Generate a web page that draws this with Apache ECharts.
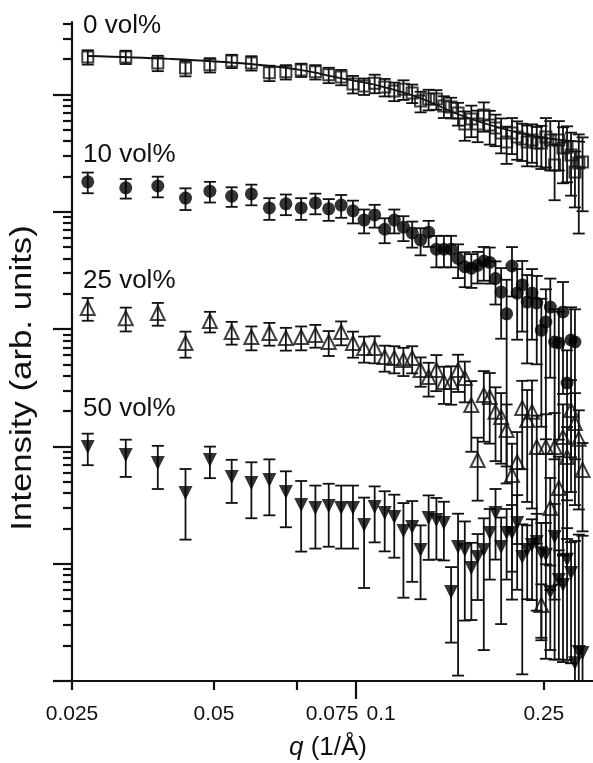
<!DOCTYPE html>
<html>
<head>
<meta charset="utf-8">
<script src="https://cdn.jsdelivr.net/npm/echarts@6/dist/echarts.min.js"></script>
<style>
html, body { margin: 0; padding: 0; background: #fff; }
#chart { width: 593px; height: 763px; }
</style>
</head>
<body>
<div id="chart"></div>
<script>
// q grid (1/Å), shared by all four samples
var qValues = [0.0270, 0.0325, 0.0380, 0.0435, 0.0490, 0.0545, 0.0600, 0.0655, 0.0710, 0.0765,
  0.0820, 0.0875, 0.0930, 0.0985, 0.1040, 0.1095, 0.1150, 0.1205, 0.1260, 0.1315,
  0.1370, 0.1425, 0.1480, 0.1535, 0.1590, 0.1645, 0.1700, 0.1755, 0.1810, 0.1865,
  0.1920, 0.1975, 0.2030, 0.2085, 0.2140, 0.2195, 0.2250, 0.2305, 0.2360, 0.2415,
  0.2470, 0.2525, 0.2580, 0.2635, 0.2690, 0.2745, 0.2800, 0.2855, 0.2910, 0.2965, 0.3020];

// 0 vol%  (open squares)
var int0 = [2.09e5, 2.09e5, 1.86e5, 1.68e5, 1.79e5, 1.93e5, 1.86e5, 1.53e5, 1.56e5, 1.62e5,
  1.56e5, 1.47e5, 1.41e5, 1.23e5, 1.18e5, 1.25e5, 1.16e5, 1.07e5, 1.11e5, 1.03e5,
  8.80e4, 9.15e4, 9.15e4, 7.98e4, 7.82e4, 6.96e4, 5.60e4, 6.18e4, 5.60e4, 6.69e4,
  5.50e4, 5.18e4, 4.70e4, 3.94e4, 4.70e4, 4.34e4, 4.17e4, 3.94e4, 4.09e4, 3.86e4,
  3.86e4, 4.34e4, 4.09e4, 2.51e4, 4.09e4, 3.50e4, 3.57e4, 3.05e4, 2.18e4, 2.61e4, 2.66e4];
var err0 = [0.14, 0.13, 0.15, 0.15, 0.14, 0.13, 0.14, 0.15, 0.14, 0.13,
  0.14, 0.15, 0.15, 0.17, 0.16, 0.18, 0.17, 0.18, 0.19, 0.18,
  0.20, 0.20, 0.19, 0.21, 0.20, 0.22, 0.28, 0.30, 0.30, 0.28,
  0.32, 0.30, 0.33, 0.35, 0.34, 0.36, 0.35, 0.38, 0.36, 0.37,
  0.40, 0.45, 0.45, 0.50, 0.45, 0.50, 0.50, 0.55, 0.50, 0.75, 0.62];

// fit curve through the 0 vol% data
var fitQ = [0.0270, 0.0403, 0.0596, 0.0761, 0.0925, 0.1124, 0.1366, 0.1661, 0.2019, 0.2454, 0.3057];
var fitI = [2.13e5, 2.01e5, 1.82e5, 1.62e5, 1.38e5, 1.18e5, 9.34e4, 6.69e4, 5.18e4, 4.34e4, 3.94e4];

// 10 vol%  (filled circles)
var int10 = [1.80e4, 1.60e4, 1.66e4, 1.31e4, 1.50e4, 1.36e4, 1.42e4, 1.08e4, 1.17e4, 1.08e4,
  1.19e4, 1.06e4, 1.14e4, 1.02e4, 8.5e3, 9.4e3, 7.1e3, 8.5e3, 7.4e3, 6.6e3,
  5.75e3, 6.7e3, 4.8e3, 4.8e3, 4.8e3, 4.0e3, 3.4e3, 3.3e3, 3.5e3, 3.8e3,
  3.7e3, 2.7e3, 2.07e3, 1.35e3, 3.45e3, 2.03e3, 2.38e3, 1.70e3, 2.03e3, 1.67e3,
  980, 1.15e3, 1.54e3, 776, 761, 1.40e3, 347, 807, 776];
var err10 = [0.20, 0.19, 0.20, 0.21, 0.20, 0.19, 0.20, 0.21, 0.20, 0.21,
  0.20, 0.21, 0.22, 0.22, 0.23, 0.22, 0.24, 0.23, 0.24, 0.25,
  0.26, 0.25, 0.30, 0.30, 0.30, 0.32, 0.33, 0.32, 0.30, 0.32,
  0.34, 0.40, 0.60, 0.95, 0.45, 0.60, 0.60, 0.70, 0.60, 0.70,
  0.85, 0.90, 0.75, 0.90, 0.85, 0.80, 0.90, 0.90, 0.90];

// 25 vol%  (open triangles)
var int25 = [1.51e3, 1.24e3, 1.37e3, 761, 1.17e3, 945, 856, 926, 840, 856,
  890, 776, 945, 761, 690, 690, 578, 567, 545, 567,
  448, 391, 448, 354, 354, 448, 383, 225, 76.6, 274,
  264, 197, 178, 138, 57, 73.6, 213, 168, 197, 98.8,
  4.45, 98.8, 29.9, 98.8, 44.2, 120, 81.2, 204, 158, 116, 62.9];
var err25 = [0.22, 0.23, 0.22, 0.25, 0.20, 0.22, 0.23, 0.22, 0.22, 0.23,
  0.22, 0.24, 0.23, 0.25, 0.25, 0.26, 0.25, 0.26, 0.27, 0.26,
  0.28, 0.32, 0.34, 0.35, 0.36, 0.35, 0.38, 0.60, 0.55, 0.60,
  0.60, 0.62, 0.60, 0.65, 0.85, 0.80, 0.70, 0.80, 0.85, 0.85,
  0.50, 0.90, 0.80, 0.95, 0.85, 0.90, 0.80, 0.80, 0.80, 0.75, 0.70];

// 50 vol%  (filled down-triangles)
var int50 = [98.8, 84.5, 72.2, 40.1, 76.6, 54.9, 48.8, 51.7, 40.9, 31.7,
  29.9, 31.0, 29.9, 29.9, 21.4, 30.4, 27.1, 25.0, 19.0, 20.6,
  13.1, 24.5, 23.6, 22.2, 5.74, 13.9, 13.1, 9.19, 11.4, 13.1,
  18.3, 27.1, 13.9, 18.3, 18.3, 22.2, 11.4, 13.1, 14.4, 15.3,
  12.3, 11.9, 5.74, 16.9, 7.26, 6.59, 10.8, 8.33, 1.42, 1.77, 1.73];
var err50 = [0.30, 0.35, 0.40, 0.60, 0.30, 0.40, 0.50, 0.50, 0.50, 0.60,
  0.55, 0.55, 0.55, 0.55, 0.71, 0.50, 0.53, 0.55, 0.73, 0.66,
  0.62, 0.56, 0.54, 0.52, 0.63, 0.92, 0.75, 0.64, 0.57, 0.86,
  0.60, 0.60, 0.78, 0.60, 0.73, 0.73, 0.90, 0.62, 0.66, 0.74,
  0.81, 0.87, 0.68, 0.91, 0.79, 0.78, 0.86, 0.83, 10, 9, 9];

var seriesNames = ['0 vol%', '10 vol%', '25 vol%', '50 vol%'];

// axis ticks
var xTicks = [0.025, 0.05, 0.075, 0.25];
var xMajorTicks = [0.1];
var xLabels = [0.025, 0.05, 0.075, 0.1, 0.25];
var xLabelTexts = ['0.025', '0.05', '0.075', '0.1', '0.25'];
var yDecades = [1, 10, 100, 1e3, 1e4, 1e5];
var yRange = [1, 4.15e5];
var xRange = [0.025, 0.3178];

var INK = '#111';
var FONT = '"Liberation Sans", Arial, Helvetica, sans-serif';

function lg(v) { return Math.log10(v); }

function yMinorTicks() {
  var out = [];
  for (var k = 0; k < yDecades.length; k++) {
    for (var m = 2; m <= 9; m++) {
      var v = yDecades[k] * m;
      if (v <= yRange[1]) out.push(lg(v));
    }
  }
  return out;
}

function findIndex(list, value) {
  for (var i = 0; i < list.length; i++) {
    if (Math.abs(lg(list[i]) - value) < 1e-6) return i;
  }
  return -1;
}

function points(ints) {
  var d = [];
  for (var i = 0; i < ints.length; i++) d.push([lg(qValues[i]), lg(ints[i])]);
  return d;
}

function errorSeries(ints, errs) {
  var data = [];
  for (var i = 0; i < ints.length; i++) {
    var lo = ints[i] * (1 - errs[i]);
    var hi = ints[i] * (1 + errs[i]);
    data.push([lg(qValues[i]), lo > yRange[0] ? lg(lo) : lg(yRange[0]), lg(hi)]);
  }
  return {
    type: 'custom',
    xAxisIndex: 0,
    yAxisIndex: 0,
    silent: true,
    z: 2,
    data: data,
    encode: { x: 0, y: [1, 2] },
    renderItem: function (params, api) {
      var x = api.value(0);
      var p1 = api.coord([x, api.value(1)]);
      var p2 = api.coord([x, api.value(2)]);
      var w = 6;
      var st = { stroke: INK, lineWidth: 1.8, fill: null };
      return {
        type: 'group',
        children: [
          { type: 'line', shape: { x1: p1[0], y1: p1[1], x2: p2[0], y2: p2[1] }, style: st },
          { type: 'line', shape: { x1: p1[0] - w, y1: p1[1], x2: p1[0] + w, y2: p1[1] }, style: st },
          { type: 'line', shape: { x1: p2[0] - w, y1: p2[1], x2: p2[0] + w, y2: p2[1] }, style: st }
        ]
      };
    }
  };
}

var fitData = [];
for (var f = 0; f < fitQ.length; f++) fitData.push([lg(fitQ[f]), lg(fitI[f])]);

var chart = echarts.init(document.getElementById('chart'), null, { renderer: 'canvas' });

var xBase = {
  type: 'value',
  min: lg(xRange[0]),
  max: lg(xRange[1]),
  position: 'bottom',
  splitLine: { show: false }
};
var yBase = {
  type: 'value',
  min: lg(yRange[0]),
  max: lg(yRange[1]),
  position: 'left',
  splitLine: { show: false }
};

var option = {
  backgroundColor: '#fff',
  animation: false,
  grid: { left: 72, right: 0, top: 22, bottom: 82, containLabel: false },
  xAxis: [
    Object.assign({}, xBase, {
      axisLine: { show: true, lineStyle: { color: INK, width: 2.2 } },
      axisTick: {
        show: true, inside: false, length: 9,
        lineStyle: { color: INK, width: 2.2 },
        customValues: xTicks.map(lg)
      },
      axisLabel: {
        show: true, margin: 23,
        color: INK, fontFamily: FONT, fontSize: 21,
        customValues: xLabels.map(lg),
        formatter: function (v) {
          var i = findIndex(xLabels, v);
          if (i < 0) return '';
          if (xLabelTexts[i] === '0.075') return '{s1|' + xLabelTexts[i] + '}';
          if (xLabelTexts[i] === '0.1') return '{s2|' + xLabelTexts[i] + '}';
          return xLabelTexts[i];
        },
        rich: {
          s1: { padding: [0, 0, 0, 70], fontFamily: FONT, fontSize: 21, color: INK },
          s2: { padding: [0, 0, 0, 50], fontFamily: FONT, fontSize: 21, color: INK }
        }
      }
    }),
    Object.assign({}, xBase, {
      axisLine: { show: false },
      axisTick: {
        show: true, inside: false, length: 18,
        lineStyle: { color: INK, width: 2.2 },
        customValues: xMajorTicks.map(lg)
      },
      axisLabel: { show: false }
    })
  ],
  yAxis: [
    Object.assign({}, yBase, {
      axisLine: { show: true, lineStyle: { color: INK, width: 2.2 } },
      axisTick: {
        show: true, inside: false, length: 19,
        lineStyle: { color: INK, width: 2.2 },
        customValues: yDecades.map(lg)
      },
      axisLabel: { show: false }
    }),
    Object.assign({}, yBase, {
      axisLine: { show: false },
      axisTick: {
        show: true, inside: false, length: 9,
        lineStyle: { color: INK, width: 2.2 },
        customValues: yMinorTicks()
      },
      axisLabel: { show: false }
    })
  ],
  graphic: [
    { type: 'text', x: 83, y: 26, style: { text: seriesNames[0], font: '26px ' + FONT, fill: INK, verticalAlign: 'middle' } },
    { type: 'text', x: 83, y: 155, style: { text: seriesNames[1], font: '26px ' + FONT, fill: INK, verticalAlign: 'middle' } },
    { type: 'text', x: 83, y: 281, style: { text: seriesNames[2], font: '26px ' + FONT, fill: INK, verticalAlign: 'middle' } },
    { type: 'text', x: 83, y: 409, style: { text: seriesNames[3], font: '26px ' + FONT, fill: INK, verticalAlign: 'middle' } },
    {
      type: 'text', x: 23, y: 378, rotation: Math.PI / 2, scaleX: 1.2,
      style: { text: 'Intensity (arb. units)', font: '29px ' + FONT, fill: INK, align: 'center', verticalAlign: 'middle' }
    },
    {
      type: 'text', x: 328, y: 748,
      style: {
        text: '{q|q} (1/Å)', font: '26px ' + FONT, fill: INK, align: 'center', verticalAlign: 'middle',
        rich: { q: { fontStyle: 'italic', font: 'italic 26px ' + FONT, fill: INK } }
      }
    }
  ],
  series: [
    errorSeries(int0, err0),
    errorSeries(int10, err10),
    errorSeries(int25, err25),
    errorSeries(int50, err50),
    {
      name: seriesNames[0], type: 'scatter', z: 3, data: points(int0),
      symbol: 'rect', symbolSize: 11,
      itemStyle: { color: 'rgba(255,255,255,0)', borderColor: INK, borderWidth: 2 }
    },
    {
      name: 'fit', type: 'line', z: 4, data: fitData, smooth: 0.4,
      showSymbol: false, symbol: 'none',
      lineStyle: { color: INK, width: 1.8 }
    },
    {
      name: seriesNames[1], type: 'scatter', z: 3, data: points(int10),
      symbol: 'circle', symbolSize: 13,
      itemStyle: { color: '#000' }
    },
    {
      name: seriesNames[2], type: 'scatter', z: 3, data: points(int25),
      symbol: 'triangle', symbolSize: 14,
      itemStyle: { color: 'rgba(255,255,255,0)', borderColor: INK, borderWidth: 2 }
    },
    {
      name: seriesNames[3], type: 'scatter', z: 3, data: points(int50),
      symbol: 'triangle', symbolRotate: 180, symbolSize: 14,
      itemStyle: { color: '#000' }
    }
  ]
};

chart.setOption(option);
</script>
</body>
</html>
